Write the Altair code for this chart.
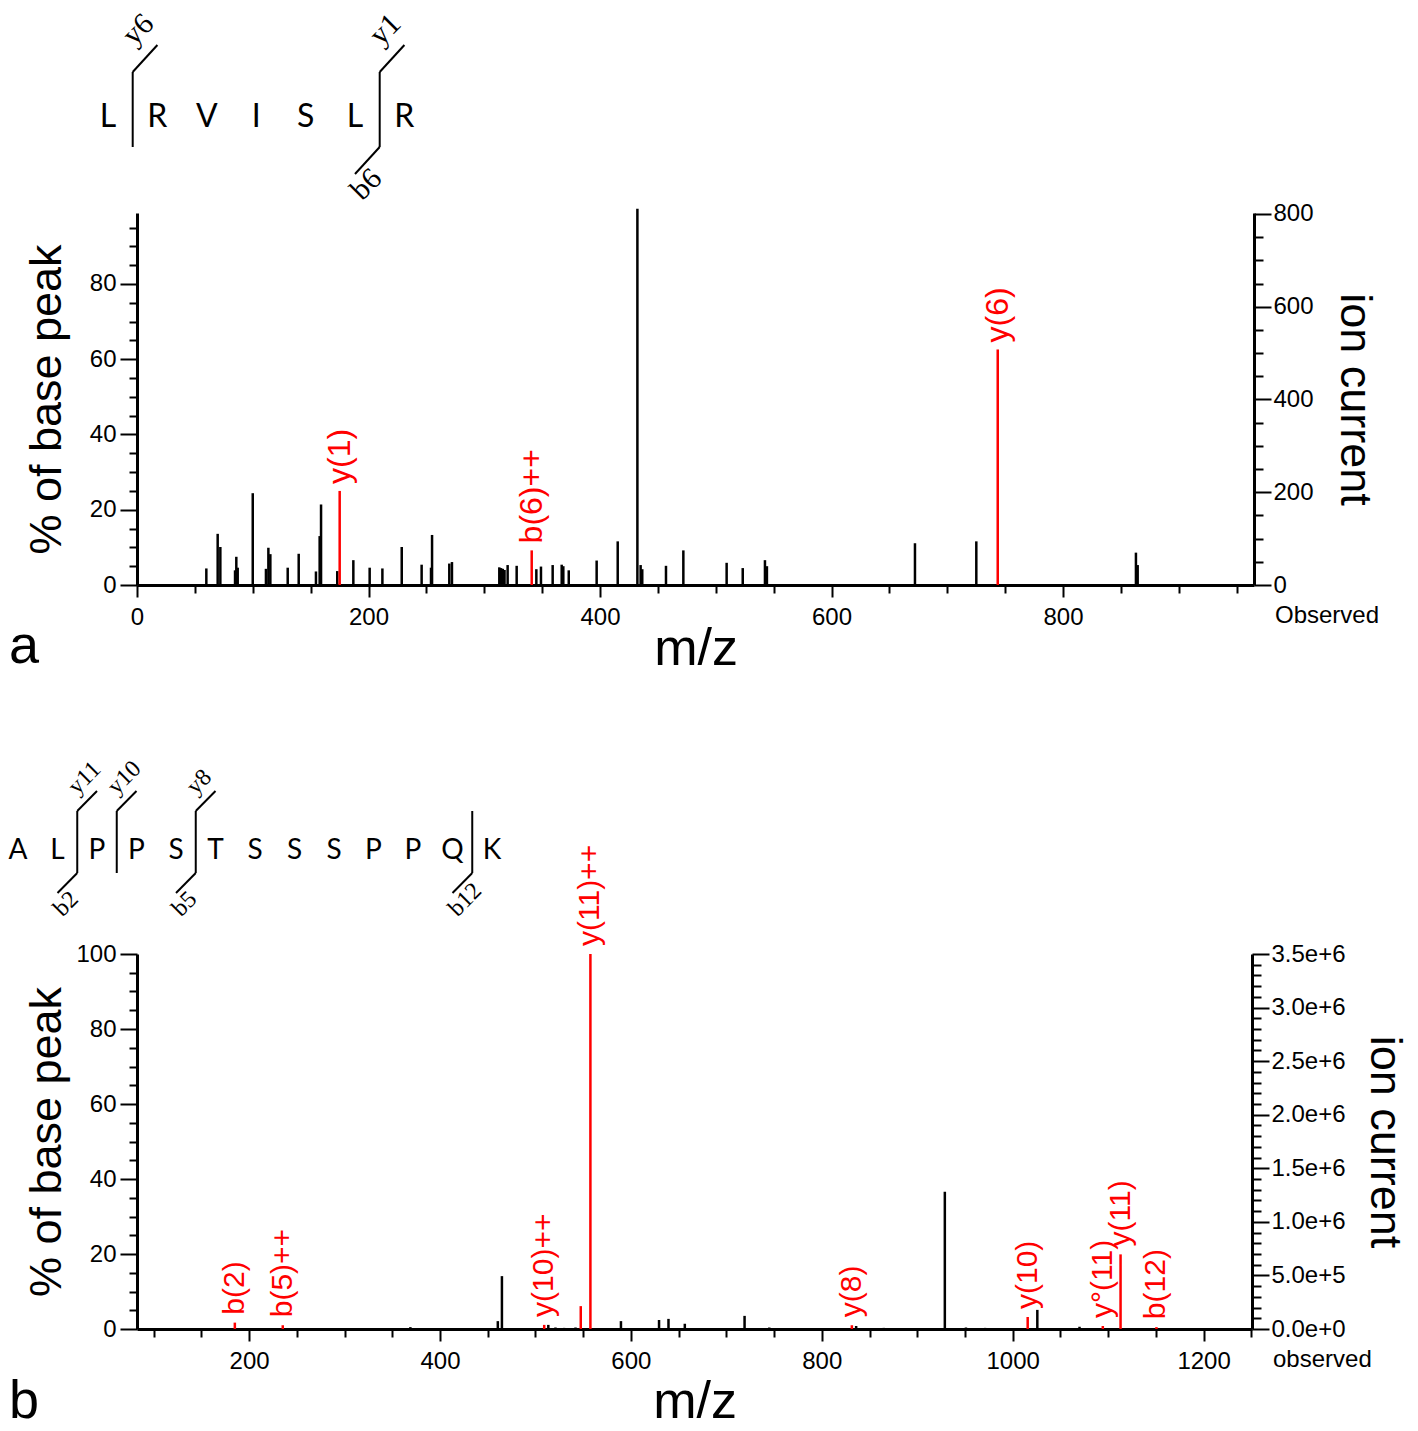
import altair as alt
import pandas as pd

SANS = "Liberation Sans"
SERIF = "Liberation Serif"
SEQF = "Lato"
RED = "#ff0000"

# ---------------- panel a data ----------------
a_obs_mz = [59.9, 69.7, 72.0, 84.7, 85.8, 87.0, 100.0, 111.4, 113.5, 115.2, 130.2, 139.7, 154.6,
            157.8, 159.0, 173.0, 186.9, 201.0, 212.0, 228.7, 245.9, 254.0, 254.9, 269.8, 272.1,
            313.0, 314.5, 316.0, 317.5, 320.2, 328.0, 345.0, 349.0, 359.1, 366.9, 368.3, 373.0,
            397.1, 415.3, 432.3, 435.1, 436.5, 457.0, 472.0, 509.4, 523.3, 542.5, 544.2, 672.1,
            725.1, 863.0, 864.5]
a_obs_pct = [4.4, 13.6, 10.1, 3.9, 7.5, 4.6, 24.4, 4.3, 9.9, 8.2, 4.6, 8.3, 3.6,
             13.0, 21.4, 3.7, 6.6, 4.6, 4.4, 10.1, 5.4, 4.6, 13.3, 5.7, 6.1,
             4.7, 4.5, 4.3, 4.0, 5.3, 5.1, 4.2, 4.9, 5.3, 5.4, 5.0, 3.9,
             6.5, 11.6, 100.0, 5.3, 4.2, 5.1, 9.2, 5.9, 4.5, 6.6, 5.0, 11.1,
             11.6, 8.6, 5.3]
a_ann_mz = [175.1, 341.0, 743.6]
a_ann_pct = [25.0, 9.2, 62.6]
a_ann_lab = ["y(1)", "b(6)++", "y(6)"]
a_unl_mz = []
a_unl_pct = []
a_seq = list("LRVISLR")
a_vcut = [0, 5]
a_top_cut = [0, 5]
a_top_lab = ["y6", "y1"]
a_bot_cut = [5]
a_bot_lab = ["b6"]

# ---------------- panel b data ----------------
b_obs_mz = [369.0, 460.6, 464.9, 513.5, 521.0, 530.0, 542.0, 589.6, 629.5, 639.4, 656.5, 719.1,
            745.0, 836.0, 865.0, 928.9, 951.0, 971.0, 1025.8, 1070.0]
b_obs_pct = [0.5, 2.1, 14.1, 1.1, 0.4, 0.3, 0.4, 2.1, 2.4, 2.7, 1.4, 3.5,
             0.4, 0.8, 0.3, 36.6, 0.4, 0.3, 5.1, 0.6]
b_ann_mz = [185.1, 235.3, 509.2, 557.6, 831.5, 1015.7, 1094.4, 1113.0, 1150.6]
b_ann_pct = [1.7, 1.0, 1.1, 100.0, 1.0, 3.2, 0.8, 19.9, 0.5]
b_ann_lab = ["b(2)", "b(5)++", "y(10)++", "y(11)++", "y(8)", "y(10)", "y°(11)", "y(11)", "b(12)"]
b_unl_mz = [547.5]
b_unl_pct = [6.1]
b_seq = list("ALPPSTSSSPPQK")
b_vcut = [1, 2, 4, 11]
b_top_cut = [1, 2, 4]
b_top_lab = ["y11", "y10", "y8"]
b_bot_cut = [1, 4, 11]
b_bot_lab = ["b2", "b5", "b12"]


def cond(test, a, b):
    return {"condition": {"test": test, "value": a}, "value": b}


def panel(cfg, obs_mz, obs_pct, ann_mz, ann_pct, ann_lab, unl_mz, unl_pct,
          seq, vcut, top_cut, top_lab, bot_cut, bot_lab):
    W, H = cfg["W"], cfg["H"]
    xs = alt.Scale(domain=cfg["xdom"], nice=False, zero=False)
    ys = alt.Scale(domain=cfg["ydom"], nice=False, zero=False)

    peaks = pd.DataFrame({
        "mz": obs_mz + unl_mz + ann_mz,
        "pct": obs_pct + unl_pct + ann_pct,
        "kind": ["obs"] * len(obs_mz) + ["ann"] * (len(unl_mz) + len(ann_mz)),
    })
    labs = pd.DataFrame({"mz": ann_mz, "pct": ann_pct, "lab": ann_lab})

    xmaj = cfg["xmaj"]
    xaxis = alt.Axis(
        values=cfg["xvals"], format="d",
        labelExpr=f"datum.value % {xmaj} === 0 ? datum.label : ''",
        tickSize=cond(f"datum.value % {xmaj} === 0", 12, 8),
        tickWidth=2, tickColor="black", domainWidth=3, domainColor="black",
        labelFont=SANS, labelFontSize=24, labelColor="black", labelPadding=cfg["xlp"],
        labelOverlap=False, labelFlush=False,
        title="m/z", titleFont=SANS, titleFontSize=52, titleFontWeight="normal",
        titleColor="black", titlePadding=cfg["xtp"], grid=False)
    yaxis = alt.Axis(
        values=cfg["yvals"], format="d",
        labelExpr="datum.value % 20 === 0 ? datum.label : ''",
        tickSize=cond("datum.value % 20 === 0", 17, 8),
        tickWidth=2, tickColor="black", domainWidth=3, domainColor="black",
        labelFont=SANS, labelFontSize=24, labelColor="black", labelPadding=4,
        labelOverlap=False, labelFlush=False, minExtent=62,
        title="% of base peak", titleFont=SANS, titleFontSize=45, titleFontWeight="normal",
        titleColor="black", titlePadding=cfg["ytp"], grid=False)

    peak_layer = alt.Chart(peaks).mark_rule(strokeWidth=2.5).encode(
        x=alt.X("mz:Q", scale=xs, axis=xaxis),
        y=alt.Y("pct:Q", scale=ys, axis=yaxis),
        y2=alt.datum(0),
        color=alt.Color("kind:N", scale=alt.Scale(domain=["obs", "ann"], range=["black", RED]),
                        legend=None),
    )
    lab_layer = alt.Chart(labs).mark_text(
        angle=270, align="left", baseline="middle", dx=cfg["ldx"], font=SANS,
        fontSize=cfg["lfs"], color=RED).encode(
        x=alt.X("mz:Q", scale=xs, axis=None),
        y=alt.Y("pct:Q", scale=ys, axis=None),
        text="lab:N",
    )

    rmaj = cfg["rmaj"]
    raxis = alt.Axis(
        orient="right", values=cfg["rvals"],
        labelExpr=f"datum.value % {rmaj} === 0 ? datum.label : ''",
        format=cfg["rfmt"],
        tickSize=cond(f"datum.value % {rmaj} === 0", 17, 9),
        tickWidth=2, tickColor="black", domainWidth=3, domainColor="black",
        labelFont=SANS, labelFontSize=24, labelColor="black", labelPadding=2,
        labelOverlap=False, labelFlush=False,
        title="ion current", titleFont=SANS, titleFontSize=45, titleFontWeight="normal",
        titleColor="black", titlePadding=cfg["rtp"], grid=False)
    right_layer = alt.Chart(pd.DataFrame({"v": [0]})).mark_point(opacity=0).encode(
        y=alt.Y("v:Q", scale=alt.Scale(domain=cfg["rdom"], nice=False, zero=False), axis=raxis),
    )

    # peptide sequence with fragmentation marks
    n = len(seq)
    ss = alt.Scale(domain=[0, n - 1], range=cfg["srange"], nice=False, zero=False)
    sq = pd.DataFrame({"i": list(range(n)), "aa": seq})
    seq_layer = alt.Chart(sq).mark_text(font=SEQF, fontSize=cfg["sfs"], baseline="middle",
                                        color="black").encode(
        x=alt.X("i:Q", scale=ss, axis=None), y=alt.value(cfg["sy"]), text="aa:N")

    vc = pd.DataFrame({"c": [c + 0.5 for c in vcut]})
    v_layer = alt.Chart(vc).mark_rule(strokeWidth=2, color="black").encode(
        x=alt.X("c:Q", scale=ss, axis=None), y=alt.value(cfg["top"]), y2=alt.value(cfg["bot"]))
    tc = pd.DataFrame({"c": [c + 0.5 for c in top_cut], "e": [c + 1.0 for c in top_cut],
                       "lab": top_lab})
    td_layer = alt.Chart(tc).mark_rule(strokeWidth=2, color="black").encode(
        x=alt.X("c:Q", scale=ss, axis=None), x2="e:Q",
        y=alt.value(cfg["top"]), y2=alt.value(cfg["top"] - cfg["ddy"]))
    tl_layer = alt.Chart(tc).mark_text(font=SERIF, fontSize=cfg["cfs"], angle=315, align="left",
                                       baseline="middle", dx=cfg["tdx"], dy=cfg["tdy"],
                                       color="black").encode(
        x=alt.X("c:Q", scale=ss, axis=None), y=alt.value(cfg["top"]), text="lab:N")
    bc = pd.DataFrame({"c": [c + 0.5 for c in bot_cut], "e": [c + 0.0 for c in bot_cut],
                       "lab": bot_lab})
    bd_layer = alt.Chart(bc).mark_rule(strokeWidth=2, color="black").encode(
        x=alt.X("c:Q", scale=ss, axis=None), x2="e:Q",
        y=alt.value(cfg["bot"]), y2=alt.value(cfg["bot"] + cfg["ddy"]))
    bl_layer = alt.Chart(bc).mark_text(font=SERIF, fontSize=cfg["cfs"], angle=315, align="left",
                                       baseline="middle", dx=cfg["bdx"], dy=cfg["bdy"],
                                       color="black").encode(
        x=alt.X("c:Q", scale=ss, axis=None), y=alt.value(cfg["bot"]), text="lab:N")

    tag_layer = alt.Chart(pd.DataFrame({"t": [cfg["tag"]]})).mark_text(
        font=SANS, fontSize=54, align="left", baseline="middle", color="black").encode(
        x=alt.value(-128), y=alt.value(cfg["tagy"]), text="t:N")
    obs_layer = alt.Chart(pd.DataFrame({"t": [cfg["obs"]]})).mark_text(
        font=SANS, fontSize=24, align="left", baseline="middle", color="black").encode(
        x=alt.value(W + 21), y=alt.value(H + 31), text="t:N")

    return alt.layer(peak_layer, lab_layer, right_layer, seq_layer, v_layer, td_layer,
                     tl_layer, bd_layer, bl_layer, tag_layer, obs_layer).resolve_scale(
        x="independent", y="independent").properties(width=W, height=H)


cfg_a = dict(W=1117, H=372, xdom=[0, 965], ydom=[0, 98.87], rdom=[0, 802],
             xvals=list(range(0, 951, 50)), xmaj=200, yvals=list(range(0, 96, 5)),
             rvals=list(range(0, 801, 50)), rmaj=200, rfmt="d",
             xlp=8, xtp=-6, ytp=6, rtp=18, ldx=7, lfs=32,
             srange=[-29, 267.4], sfs=32, sy=-96, top=-141, bot=-66, ddy=27, cfs=30,
             tdx=19, tdy=-26, bdx=-51, bdy=17, tag="a", tagy=434, obs="Observed")
cfg_b = dict(W=1115, H=375, xdom=[82.6, 1250.7], ydom=[0, 100], rdom=[0, 3500000],
             xvals=list(range(100, 1251, 50)), xmaj=200, yvals=list(range(0, 101, 5)),
             rvals=list(range(0, 3500001, 100000)), rmaj=500000, rfmt=".1e",
             xlp=8, xtp=3, ytp=6, rtp=16, ldx=8, lfs=30,
             srange=[-119, 355], sfs=28, sy=-103, top=-143, bot=-81, ddy=20, cfs=24,
             tdx=11, tdy=-18, bdx=-42, bdy=14, tag="b", tagy=448, obs="observed")

pa = panel(cfg_a, a_obs_mz, a_obs_pct, a_ann_mz, a_ann_pct, a_ann_lab, a_unl_mz, a_unl_pct,
           a_seq, a_vcut, a_top_cut, a_top_lab, a_bot_cut, a_bot_lab)
pb = panel(cfg_b, b_obs_mz, b_obs_pct, b_ann_mz, b_ann_pct, b_ann_lab, b_unl_mz, b_unl_pct,
           b_seq, b_vcut, b_top_cut, b_top_lab, b_bot_cut, b_bot_lab)

chart = alt.vconcat(pa, pb, spacing=82).properties(
    padding={"left": 0, "top": 0, "right": 0, "bottom": 0}, background="white"
).configure_view(strokeWidth=0, stroke="transparent")

chart.save("out.html", embed_options={"renderer": "svg", "actions": False})
